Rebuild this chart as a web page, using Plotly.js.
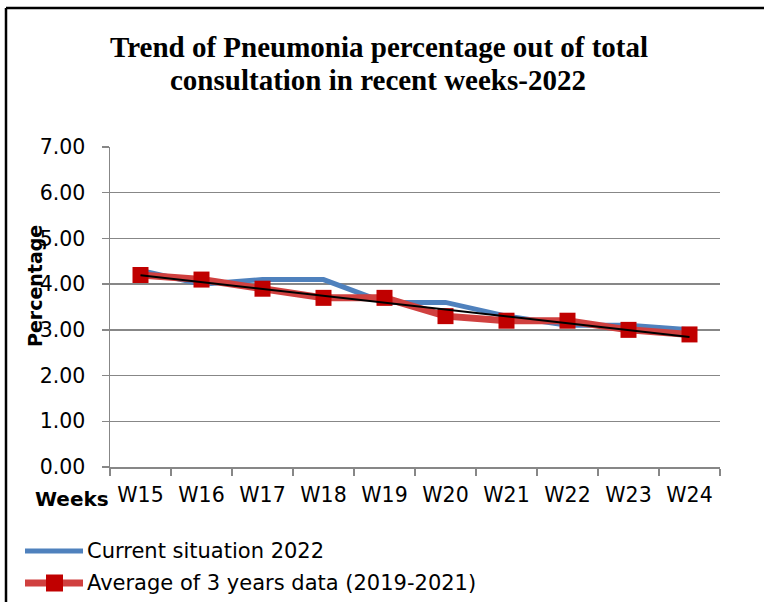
<!DOCTYPE html>
<html>
<head>
<meta charset="utf-8">
<script src="https://cdn.plot.ly/plotly-3.0.1.min.js"></script>
<style>
  html, body { margin: 0; padding: 0; background: #ffffff; }
  #chart { width: 764px; height: 602px; }
</style>
</head>
<body>
<div id="chart"></div>
<script>
// ---- Data ----
const weeks = ["W15", "W16", "W17", "W18", "W19", "W20", "W21", "W22", "W23", "W24"];
const current2022 = [4.3, 4.0, 4.1, 4.1, 3.6, 3.6, 3.3, 3.1, 3.1, 3.0];
const average3yr = [4.2, 4.1, 3.9, 3.7, 3.7, 3.3, 3.2, 3.2, 3.0, 2.9];
const yTicks = [0, 1, 2, 3, 4, 5, 6, 7];
const seriesNames = ["Current situation 2022", "Average of 3 years data (2019-2021)"];
const titleLines = ["Trend of Pneumonia percentage out of total", "consultation in recent weeks-2022"];

// Linear trendline (least squares) of the 3-year average series
function linearTrend(vals) {
  const n = vals.length;
  let sx = 0, sy = 0, sxy = 0, sxx = 0;
  for (let i = 0; i < n; i++) { const x = i + 1; sx += x; sy += vals[i]; sxy += x * vals[i]; sxx += x * x; }
  const b = (n * sxy - sx * sy) / (n * sxx - sx * sx);
  const a = (sy - b * sx) / n;
  return vals.map((_, i) => a + b * (i + 1));
}
const trend = linearTrend(average3yr);

// ---- Geometry helpers (pixel -> paper) ----
const L = 110, R = 44, T = 147, B = 135, W = 764, H = 602;
const pw = W - L - R, ph = H - T - B;
const px = x => (x - L) / pw;
const py = y => (H - B - y) / ph;

const BLUE = "#4F81BD", RED_LINE = "#D0403F", RED_MARK = "#C00000", GRID = "#878787";
const tickFont = { family: "DejaVu Sans", size: 20.5, color: "#000000" };
const legendFont = { family: "DejaVu Sans", size: 21, color: "#000000" };
const titleFont = { family: "Liberation Serif", size: 29, color: "#000000" };

const traces = [
  { type: "scatter", mode: "lines", x: weeks, y: current2022, name: seriesNames[0],
    line: { color: BLUE, width: 5 }, showlegend: false, hoverinfo: "x+y" },
  { type: "scatter", mode: "lines+markers", x: weeks, y: average3yr, name: seriesNames[1],
    line: { color: RED_LINE, width: 7 }, marker: { symbol: "square", size: 16, color: RED_MARK },
    showlegend: false, hoverinfo: "x+y" },
  { type: "scatter", mode: "lines", x: weeks, y: trend, name: "Linear trend",
    line: { color: "#000000", width: 2 }, showlegend: false, hoverinfo: "skip" }
];

const shapes = [
  // outer frame (top and left edges)
  { type: "line", xref: "paper", yref: "paper", x0: px(6), x1: px(766), y0: py(8), y1: py(8),
    line: { color: "#000000", width: 2.5 } },
  { type: "line", xref: "paper", yref: "paper", x0: px(6), x1: px(6), y0: py(8), y1: py(606),
    line: { color: "#000000", width: 2.5 } },
  // legend symbols
  { type: "line", xref: "paper", yref: "paper", x0: px(25), x1: px(83), y0: py(551), y1: py(551),
    line: { color: BLUE, width: 5 } },
  { type: "line", xref: "paper", yref: "paper", x0: px(25), x1: px(83), y0: py(583), y1: py(583),
    line: { color: RED_LINE, width: 7 } },
  { type: "rect", xref: "paper", yref: "paper", x0: px(46), x1: px(63), y0: py(574.5), y1: py(591.5),
    line: { width: 0 }, fillcolor: RED_MARK }
];

const annotations = [
  { xref: "paper", yref: "paper", x: px(379), y: py(47), text: "<b>" + titleLines[0] + "</b>",
    showarrow: false, xanchor: "center", yanchor: "middle", font: titleFont },
  { xref: "paper", yref: "paper", x: px(378), y: py(80), text: "<b>" + titleLines[1] + "</b>",
    showarrow: false, xanchor: "center", yanchor: "middle", font: titleFont },
  { xref: "paper", yref: "paper", x: px(35), y: py(286), text: "<b>Percentage</b>", textangle: -90,
    showarrow: false, xanchor: "center", yanchor: "middle",
    font: { family: "DejaVu Sans", size: 19, color: "#000000" } },
  { xref: "paper", yref: "paper", x: px(111), y: py(499), text: "<b>Weeks</b>",
    showarrow: false, xanchor: "right", yanchor: "middle",
    font: { family: "DejaVu Sans", size: 20, color: "#000000" } },
  { xref: "paper", yref: "paper", x: px(85), y: py(551), text: seriesNames[0],
    showarrow: false, xanchor: "left", yanchor: "middle", font: legendFont },
  { xref: "paper", yref: "paper", x: px(85), y: py(583), text: seriesNames[1],
    showarrow: false, xanchor: "left", yanchor: "middle", font: legendFont }
];

const layout = {
  width: W, height: H,
  margin: { l: L, r: R, t: T, b: B, pad: 0 },
  paper_bgcolor: "#ffffff", plot_bgcolor: "#ffffff",
  showlegend: false,
  xaxis: { type: "category", range: [-0.5, 9.5], tickson: "boundaries", ticks: "outside", ticklen: 7,
    tickcolor: GRID, tickwidth: 1.5, showline: true, linecolor: GRID, linewidth: 1.5,
    showgrid: false, zeroline: false, tickfont: tickFont, fixedrange: true, ticklabelstandoff: 9 },
  yaxis: { range: [0, 7], tickvals: yTicks, tickformat: ".2f", ticks: "outside", ticklen: 7,
    tickcolor: GRID, tickwidth: 1.5, showline: true, linecolor: GRID, linewidth: 1.5,
    showgrid: true, gridcolor: GRID, gridwidth: 1.5, zeroline: false, tickfont: tickFont,
    fixedrange: true, ticklabelstandoff: 12 },
  shapes: shapes,
  annotations: annotations
};

Plotly.newPlot("chart", traces, layout, { displayModeBar: false, staticPlot: true });
</script>
</body>
</html>
